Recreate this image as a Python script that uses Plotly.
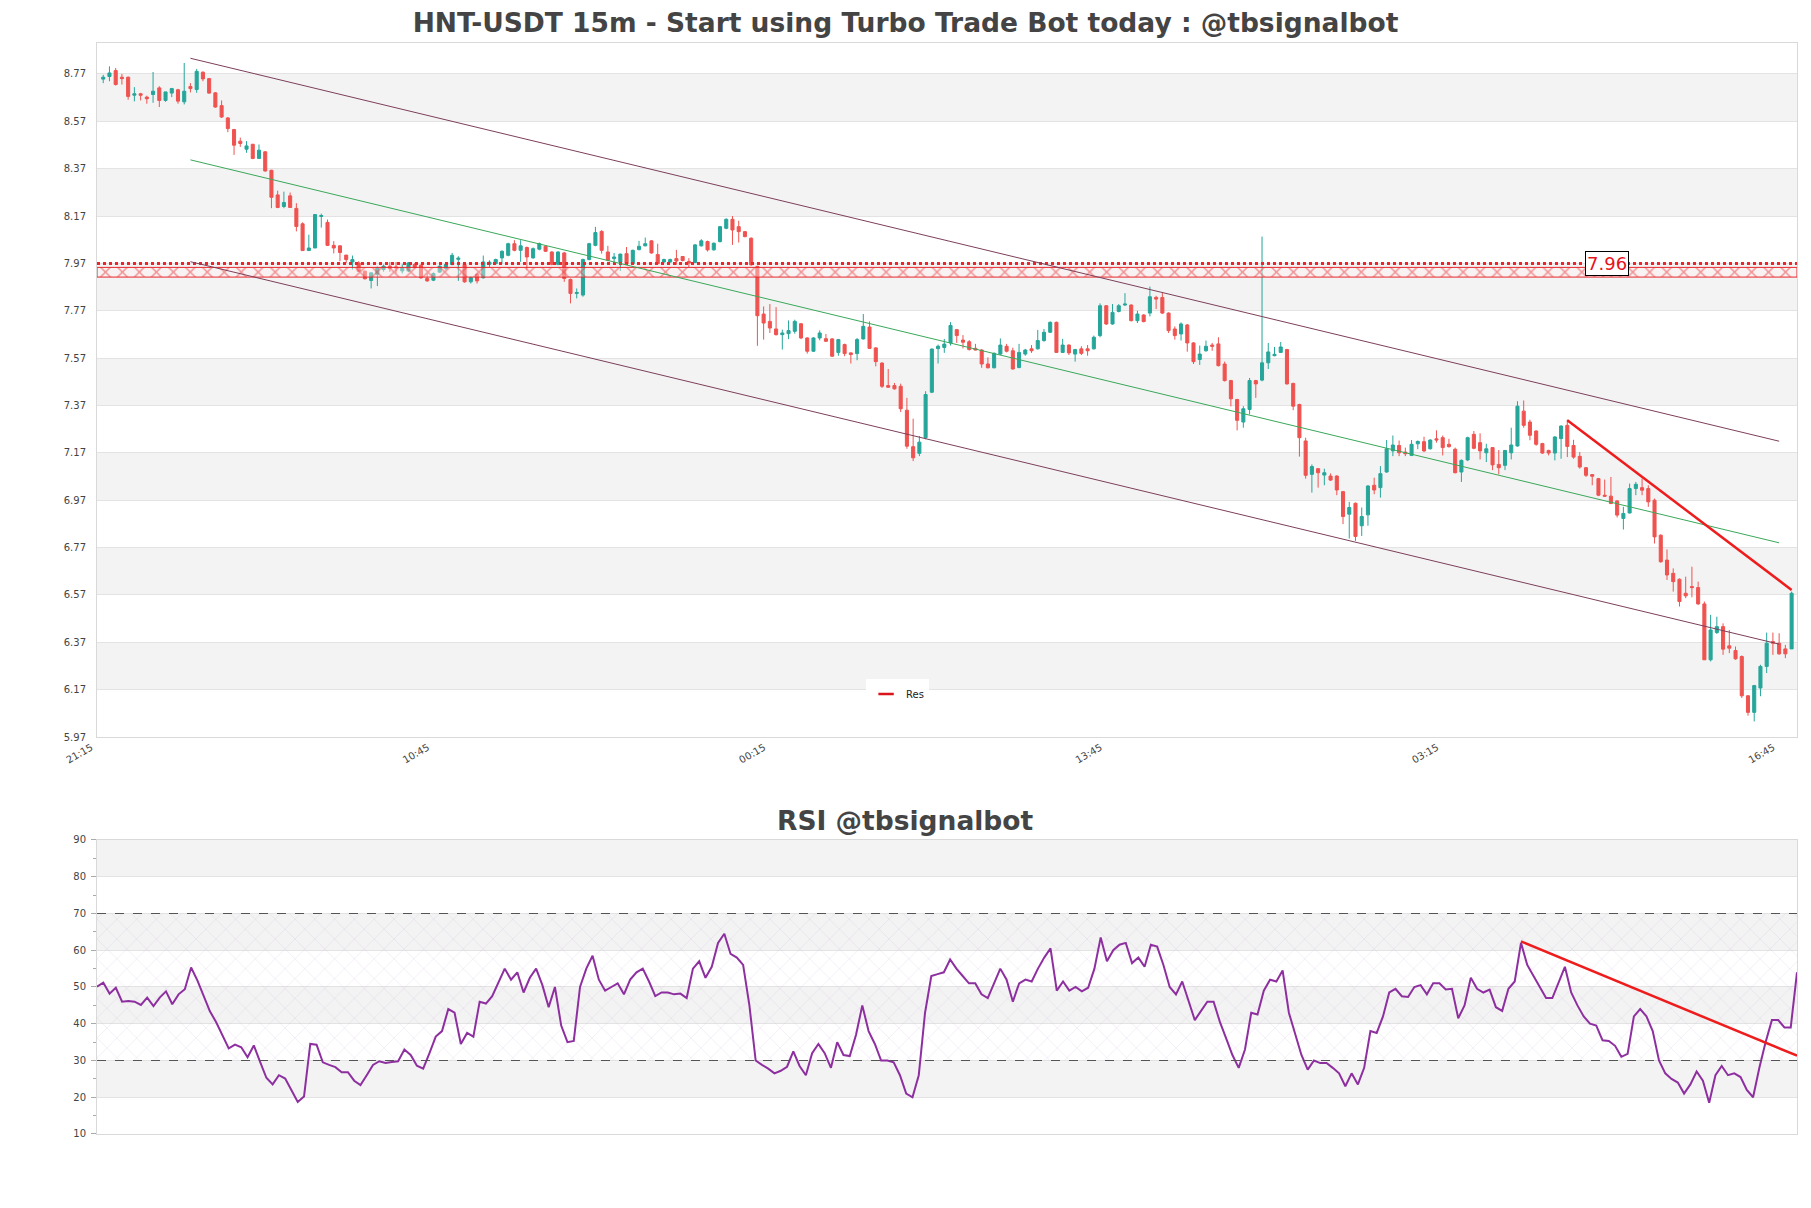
import plotly.graph_objects as go
import pandas as pd

# ---------------- data ----------------
open_ = [8.748,8.759,8.784,8.756,8.756,8.680,8.686,8.672,8.683,8.711,
         8.658,8.689,8.703,8.652,8.717,8.704,8.777,8.750,8.690,8.636,
         8.584,8.535,8.486,8.452,8.473,8.413,8.441,8.363,8.259,8.210,
         8.255,8.202,8.137,8.024,8.035,8.168,8.143,8.046,8.044,8.005,
         7.976,7.972,7.937,7.898,7.924,7.944,7.958,7.955,7.938,7.938,
         7.965,7.962,7.906,7.899,7.933,7.948,7.965,7.987,7.965,7.892,
         7.924,7.909,7.966,7.969,7.993,8.004,8.053,8.025,8.037,7.993,
         8.030,8.042,8.018,7.966,8.014,7.902,7.843,7.836,7.986,8.046,
         8.105,8.018,7.990,7.976,8.011,7.969,8.028,8.044,8.065,8.007,
         7.976,7.976,7.990,7.999,7.978,7.974,8.044,8.062,8.027,8.062,
         8.118,8.156,8.125,8.104,8.076,7.957,7.756,7.725,7.693,7.669,
         7.673,7.683,7.715,7.655,7.599,7.655,7.652,7.651,7.594,7.627,
         7.592,7.589,7.651,7.701,7.613,7.549,7.454,7.454,7.451,7.350,
         7.196,7.168,7.234,7.426,7.610,7.615,7.634,7.690,7.646,7.639,
         7.611,7.604,7.545,7.529,7.587,7.620,7.601,7.530,7.587,7.609,
         7.609,7.644,7.679,7.721,7.594,7.625,7.587,7.609,7.609,7.609,
         7.665,7.791,7.714,7.767,7.794,7.794,7.728,7.752,7.760,7.826,
         7.826,7.760,7.693,7.672,7.710,7.634,7.564,7.601,7.625,7.630,
         7.545,7.475,7.395,7.300,7.353,7.475,7.477,7.550,7.580,7.594,
         7.606,7.463,7.374,7.220,7.079,7.103,7.076,7.072,7.072,7.006,
         6.911,6.957,6.862,6.908,7.033,7.023,7.089,7.178,7.201,7.173,
         7.159,7.208,7.217,7.187,7.229,7.234,7.206,7.185,7.089,7.140,
         7.248,7.213,7.170,7.192,7.121,7.117,7.170,7.199,7.346,7.300,
         7.262,7.209,7.180,7.169,7.230,7.286,7.201,7.155,7.107,7.078,
         7.061,6.991,6.987,6.967,6.893,6.916,7.019,7.023,7.019,6.970,
         6.822,6.717,6.661,6.636,6.577,6.605,6.601,6.532,6.296,6.411,
         6.436,6.355,6.335,6.310,6.144,6.074,6.177,6.268,6.373,6.366,
         6.342,6.342]
high = [8.766,8.802,8.795,8.770,8.759,8.714,8.690,8.678,8.778,8.718,
        8.694,8.711,8.707,8.816,8.731,8.791,8.781,8.753,8.693,8.658,
        8.588,8.538,8.501,8.486,8.473,8.472,8.444,8.365,8.277,8.273,
        8.269,8.224,8.143,8.091,8.176,8.180,8.155,8.064,8.046,8.005,
        8.003,7.979,7.940,7.930,7.956,7.965,7.976,7.976,7.966,7.976,
        7.972,7.966,7.927,7.932,7.962,7.969,8.014,8.000,7.969,7.915,
        7.930,8.003,7.983,7.990,8.025,8.057,8.068,8.068,8.041,8.037,
        8.058,8.046,8.021,8.021,8.018,7.906,7.864,7.990,8.057,8.124,
        8.110,8.044,8.014,8.011,8.039,8.028,8.065,8.079,8.068,8.053,
        7.990,7.990,8.027,7.999,7.992,8.052,8.072,8.066,8.058,8.128,
        8.160,8.170,8.150,8.106,8.080,7.960,7.788,7.798,7.785,7.690,
        7.729,7.732,7.718,7.658,7.658,7.687,7.672,7.654,7.651,7.631,
        7.594,7.655,7.756,7.725,7.616,7.552,7.524,7.465,7.462,7.402,
        7.314,7.241,7.430,7.611,7.627,7.651,7.722,7.693,7.667,7.646,
        7.630,7.608,7.573,7.594,7.653,7.630,7.614,7.630,7.609,7.625,
        7.689,7.693,7.725,7.724,7.651,7.628,7.609,7.620,7.625,7.665,
        7.801,7.794,7.798,7.798,7.844,7.797,7.770,7.755,7.872,7.833,
        7.847,7.763,7.704,7.721,7.714,7.637,7.623,7.644,7.634,7.658,
        7.555,7.478,7.398,7.367,7.486,7.478,8.083,7.634,7.617,7.638,
        7.609,7.466,7.377,7.234,7.121,7.106,7.103,7.083,7.075,7.009,
        6.963,6.960,6.939,7.033,7.065,7.114,7.224,7.243,7.222,7.192,
        7.224,7.222,7.238,7.227,7.265,7.243,7.229,7.192,7.142,7.238,
        7.262,7.252,7.208,7.194,7.182,7.182,7.276,7.388,7.391,7.310,
        7.265,7.212,7.183,7.240,7.286,7.310,7.225,7.173,7.110,7.080,
        7.064,7.057,7.068,6.970,6.942,7.040,7.047,7.061,7.033,6.977,
        6.826,6.762,6.682,6.640,6.647,6.689,6.626,6.542,6.486,6.478,
        6.450,6.422,6.352,6.314,6.147,6.190,6.275,6.411,6.411,6.408,
        6.359,6.584]
low = [8.731,8.739,8.721,8.725,8.661,8.654,8.658,8.644,8.648,8.630,
       8.652,8.672,8.644,8.641,8.692,8.690,8.739,8.686,8.627,8.584,
       8.524,8.428,8.462,8.437,8.410,8.411,8.357,8.203,8.203,8.203,
       8.206,8.105,8.024,8.024,8.035,8.121,8.043,8.012,7.979,7.972,
       7.944,7.933,7.902,7.864,7.874,7.935,7.934,7.927,7.927,7.934,
       7.948,7.905,7.892,7.895,7.930,7.941,7.962,7.896,7.888,7.885,
       7.885,7.906,7.955,7.965,7.969,8.000,8.021,7.976,7.941,7.990,
       8.025,8.018,7.962,7.962,7.892,7.801,7.822,7.829,7.983,8.042,
       8.011,7.979,7.969,7.938,7.965,7.965,8.025,8.042,8.011,7.965,
       7.972,7.972,7.964,7.978,7.954,7.971,8.041,8.020,8.024,8.058,
       8.114,8.048,8.058,8.080,7.960,7.622,7.648,7.676,7.665,7.606,
       7.650,7.673,7.650,7.589,7.596,7.645,7.638,7.575,7.580,7.578,
       7.547,7.561,7.648,7.608,7.535,7.444,7.444,7.437,7.342,7.187,
       7.135,7.156,7.227,7.422,7.547,7.592,7.623,7.634,7.611,7.602,
       7.602,7.529,7.527,7.527,7.583,7.594,7.521,7.527,7.580,7.592,
       7.606,7.639,7.676,7.592,7.592,7.583,7.555,7.583,7.580,7.606,
       7.658,7.710,7.711,7.763,7.791,7.725,7.718,7.721,7.746,7.777,
       7.756,7.676,7.648,7.644,7.597,7.545,7.541,7.597,7.601,7.535,
       7.471,7.366,7.265,7.276,7.332,7.402,7.472,7.524,7.578,7.592,
       7.458,7.350,7.154,7.061,7.002,7.023,7.033,7.051,6.991,6.869,
       6.808,6.798,6.819,6.862,6.995,6.981,7.086,7.156,7.156,7.156,
       7.156,7.185,7.173,7.184,7.213,7.159,7.192,7.083,7.047,7.135,
       7.185,7.142,7.131,7.097,7.079,7.097,7.142,7.196,7.276,7.223,
       7.200,7.165,7.159,7.138,7.145,7.152,7.145,7.103,7.068,7.033,
       6.987,6.984,6.953,6.897,6.846,6.914,6.991,6.991,6.942,6.787,
       6.706,6.633,6.584,6.521,6.556,6.560,6.528,6.296,6.289,6.405,
       6.317,6.324,6.296,6.135,6.060,6.036,6.142,6.240,6.317,6.317,
       6.303,6.342]
close = [8.756,8.774,8.725,8.750,8.675,8.686,8.680,8.665,8.697,8.658,
         8.694,8.708,8.655,8.697,8.708,8.781,8.749,8.689,8.630,8.588,
         8.539,8.469,8.476,8.466,8.413,8.448,8.360,8.249,8.206,8.227,
         8.206,8.126,8.024,8.035,8.176,8.172,8.046,8.035,8.016,7.986,
         7.986,7.937,7.905,7.930,7.952,7.958,7.948,7.951,7.952,7.972,
         7.952,7.909,7.896,7.927,7.958,7.965,8.004,7.992,7.892,7.910,
         7.896,7.976,7.975,7.986,8.021,8.053,8.025,8.044,7.997,8.032,
         8.053,8.021,7.966,8.018,7.906,7.843,7.847,7.986,8.053,8.100,
         8.025,7.983,7.997,8.009,7.969,8.025,8.042,8.053,8.014,7.969,
         7.986,7.986,7.980,7.982,7.971,8.048,8.065,8.027,8.055,8.125,
         8.156,8.111,8.104,8.083,7.964,7.749,7.718,7.697,7.669,7.676,
         7.686,7.725,7.655,7.599,7.655,7.676,7.641,7.578,7.648,7.589,
         7.585,7.648,7.704,7.611,7.555,7.451,7.447,7.440,7.356,7.198,
         7.149,7.215,7.416,7.608,7.620,7.629,7.708,7.665,7.637,7.606,
         7.604,7.545,7.529,7.590,7.625,7.599,7.524,7.594,7.604,7.601,
         7.644,7.679,7.721,7.594,7.625,7.592,7.606,7.590,7.601,7.658,
         7.791,7.714,7.763,7.791,7.798,7.728,7.756,7.724,7.829,7.819,
         7.760,7.686,7.665,7.714,7.634,7.555,7.587,7.620,7.620,7.538,
         7.475,7.398,7.307,7.356,7.475,7.461,7.550,7.596,7.586,7.617,
         7.461,7.367,7.234,7.075,7.112,7.086,7.086,7.055,7.013,6.901,
         6.939,6.817,6.901,7.030,7.013,7.082,7.187,7.203,7.170,7.166,
         7.206,7.218,7.178,7.224,7.224,7.192,7.196,7.086,7.138,7.234,
         7.189,7.178,7.187,7.119,7.107,7.180,7.203,7.367,7.286,7.244,
         7.206,7.169,7.169,7.237,7.283,7.197,7.152,7.110,7.075,7.071,
         6.991,6.987,6.956,6.907,6.914,7.019,7.037,7.012,6.963,6.815,
         6.710,6.654,6.626,6.542,6.566,6.601,6.532,6.296,6.422,6.436,
         6.341,6.345,6.300,6.144,6.074,6.187,6.268,6.366,6.366,6.321,
         6.321,6.577]
rsi = [50.1,51.2,48.2,49.8,46.0,46.2,46.0,45.1,47.1,44.8,
       47.1,48.8,45.3,48.0,49.4,55.3,51.8,47.7,43.4,40.4,
       36.8,33.3,34.3,33.6,30.9,34.1,29.6,25.3,23.5,26.0,
       25.1,21.9,18.7,20.2,34.5,34.3,29.5,28.8,28.2,26.8,
       26.8,24.5,23.3,26.0,28.8,29.8,29.3,29.6,29.8,33.0,
       31.5,28.6,27.8,32.0,36.5,38.0,44.0,43.0,34.5,37.5,
       36.5,46.0,45.5,47.5,51.5,55.0,52.0,54.0,48.5,52.5,
       55.0,50.5,44.5,50.0,39.5,35.0,35.3,50.0,55.0,58.5,
       52.0,49.0,50.0,51.0,48.0,52.0,54.0,55.0,51.5,47.5,
       48.5,48.5,48.0,48.2,47.0,55.0,57.0,52.5,55.5,62.0,
       64.5,59.0,58.0,56.0,45.0,30.0,28.8,27.8,26.5,27.2,
       28.3,32.5,28.5,26.0,32.0,34.5,32.0,28.0,35.0,31.5,
       31.2,37.0,45.0,38.0,34.5,30.0,30.0,29.5,26.0,21.0,
       20.0,26.0,43.0,53.0,53.5,54.0,57.5,55.0,53.0,51.0,
       51.0,48.0,47.0,51.0,55.0,52.0,46.0,51.0,52.0,51.5,
       55.0,58.0,60.5,49.0,51.5,49.0,50.0,48.8,49.8,55.0,
       63.5,57.0,60.0,61.5,62.0,56.5,58.0,55.5,61.5,61.0,
       56.0,50.0,48.0,51.5,46.0,41.0,43.5,46.0,46.0,40.5,
       36.0,31.5,28.0,33.0,43.0,42.5,49.0,52.0,51.5,54.5,
       43.0,37.5,31.5,27.5,30.0,29.3,29.3,28.0,26.5,23.0,
       26.5,23.5,28.0,38.0,37.5,42.0,48.5,49.5,47.5,47.3,
       50.0,50.5,48.0,51.0,51.0,49.3,49.5,41.5,45.0,52.5,
       49.5,48.5,49.3,44.5,43.5,49.5,51.5,62.0,56.0,53.0,
       50.0,47.0,47.0,51.5,55.5,48.5,45.0,42.0,40.0,39.5,
       35.5,35.3,34.0,31.0,31.8,42.0,44.0,42.0,38.0,30.0,
       26.5,25.0,24.0,21.0,23.5,27.0,24.5,18.5,26.0,28.5,
       26.0,26.5,25.5,22.0,20.0,28.0,35.0,41.0,41.0,39.0,
       39.0,54.0]

times = pd.date_range("2024-03-10 21:15", periods=len(close), freq="15min")

# price-axis ticks
y_ticks = [5.97, 6.17, 6.37, 6.57, 6.77, 6.97, 7.17, 7.37, 7.57, 7.77, 7.97, 8.17, 8.37, 8.57, 8.77]
y_tick_text = ["5.97", "6.17", "6.37", "6.57", "6.77", "6.97", "7.17", "7.37", "7.57", "7.77",
               "7.97", "8.17", "8.37", "8.57", "8.77"]

# channel lines (candle index, value)
chan_idx = [14, 269]
chan_upper = [8.836, 7.219]
chan_mid = [8.407, 6.790]
chan_lower = [7.977, 6.362]

# resistance trend line on price and RSI
res_idx = [235, 271]
res_val = [7.307, 6.591]
rsi_res_idx = [227, 271]
rsi_res_val = [62.4, 31.3]

# horizontal resistance level and its zone
level_value = 7.96
level_line = 7.969
zone_low, zone_high = 7.912, 7.953

rsi_low, rsi_high = 30, 70

# ---------------- figure ----------------
GREEN = "#26a69a"
RED = "#ef5350"
LVL = "#e8262b"
FONT = "DejaVu Sans"
GRID = "#e3e3e3"
BAND = "#f3f3f3"
BORDER = "#d9d9d9"

fig = go.Figure()
pad_l = pd.Timedelta(minutes=15)
pad_r = pd.Timedelta(minutes=13)
x0, x1 = times[0] - pad_l, times[-1] + pad_r

# level zone (hatched, with border lines)
fig.add_trace(go.Scatter(
    x=[x0, x1, x1, x0, x0], y=[zone_low, zone_low, zone_high, zone_high, zone_low],
    mode="lines", line=dict(width=1, color=LVL), fill="toself", fillcolor="rgba(0,0,0,0)",
    fillpattern=dict(shape="x", fgcolor=LVL, bgcolor="rgba(255,240,240,0.4)", size=12, solidity=0.22),
    hoverinfo="skip", showlegend=False, xaxis="x", yaxis="y"))
fig.add_trace(go.Scatter(
    x=[x0, x1], y=[level_line, level_line], mode="lines",
    line=dict(color=LVL, width=3, dash="dot"),
    hoverinfo="skip", showlegend=False, xaxis="x", yaxis="y"))

# channel
for vals, col in [(chan_upper, "#7d3f5a"), (chan_mid, "#3aa85a"), (chan_lower, "#7d3f5a")]:
    fig.add_trace(go.Scatter(x=[times[i] for i in chan_idx], y=vals, mode="lines",
                             line=dict(color=col, width=1), showlegend=False,
                             xaxis="x", yaxis="y"))

fig.add_trace(go.Candlestick(
    x=times, open=open_, high=high, low=low, close=close,
    increasing=dict(line=dict(color=GREEN, width=1), fillcolor=GREEN),
    decreasing=dict(line=dict(color=RED, width=1), fillcolor=RED),
    whiskerwidth=0, showlegend=False, xaxis="x", yaxis="y"))

fig.add_trace(go.Scatter(x=[times[i] for i in res_idx], y=res_val, mode="lines",
                         name="Res", legendgroup="res", line=dict(color="#ee1c1c", width=2.5),
                         showlegend=False, xaxis="x", yaxis="y"))
# legend entry for Res (short line icon)
fig.add_trace(go.Scatter(x=[None], y=[None], mode="markers", name="Res", legendgroup="res",
                         marker=dict(symbol="line-ew", size=11, color="#d9141b",
                                     line=dict(color="#d9141b", width=2.5)),
                         showlegend=True, xaxis="x", yaxis="y"))

# RSI panel
fig.add_trace(go.Scatter(
    x=[times[0], times[-1], times[-1], times[0], times[0]],
    y=[rsi_low, rsi_low, rsi_high, rsi_high, rsi_low],
    mode="lines", line=dict(width=0), fill="toself", fillcolor="rgba(0,0,0,0)",
    fillpattern=dict(shape="x", fgcolor="rgba(185,150,205,0.55)", bgcolor="rgba(255,255,255,0)",
                     size=14, solidity=0.08),
    hoverinfo="skip", showlegend=False, xaxis="x2", yaxis="y2"))
fig.add_trace(go.Scatter(x=times, y=rsi, mode="lines", line=dict(color="#8e2fa0", width=2),
                         showlegend=False, xaxis="x2", yaxis="y2"))
fig.add_trace(go.Scatter(x=[times[i] for i in rsi_res_idx], y=rsi_res_val, mode="lines",
                         line=dict(color="#ee1c1c", width=2.5), showlegend=False,
                         xaxis="x2", yaxis="y2"))

shapes = []
for k in range(0, len(y_ticks) - 1):
    lo_, hi_ = y_ticks[k], y_ticks[k + 1]
    if k % 2 == 1:
        shapes.append(dict(type="rect", xref="x domain", yref="y", x0=0, x1=1, y0=lo_, y1=hi_,
                           fillcolor=BAND, line=dict(width=0), layer="below"))
for lo_, hi_ in [(20, 30), (40, 50), (60, 70), (80, 90)]:
    shapes.append(dict(type="rect", xref="x2 domain", yref="y2", x0=0, x1=1, y0=lo_, y1=hi_,
                       fillcolor=BAND, line=dict(width=0), layer="below"))
for v in (rsi_low, rsi_high):
    shapes.append(dict(type="line", xref="x2 domain", yref="y2", x0=0, x1=1, y0=v, y1=v,
                       line=dict(color="#555555", width=1.2, dash="dash")))

annotations = [
    dict(text="<b>RSI @tbsignalbot</b>", xref="paper", yref="paper", x=0.4753, y=0.2878,
         xanchor="center", yanchor="middle", showarrow=False,
         font=dict(family=FONT, size=26.5, color="#444")),
    dict(text="%.2f" % level_value, xref="paper", yref="y", x=0.888, y=7.971,
         xanchor="center", yanchor="middle", showarrow=False,
         font=dict(family=FONT, size=18, color="#e8121b"),
         bgcolor="white", bordercolor="black", borderwidth=1, borderpad=1),
]

fig.update_layout(
    width=1811, height=1208,
    margin=dict(l=97, r=14, t=43, b=74),
    paper_bgcolor="white", plot_bgcolor="white",
    font=dict(family=FONT, size=11, color="#444"),
    title=dict(text="<b>HNT-USDT 15m - Start using Turbo Trade Bot today : @tbsignalbot</b>",
               x=0.5, xref="container", xanchor="center", y=1 - 23 / 1208, yref="container",
               yanchor="middle", font=dict(family=FONT, size=26.5, color="#444")),
    xaxis=dict(domain=[0, 1], anchor="y", type="date", range=[x0, x1],
               rangeslider=dict(visible=False), tickformat="%H:%M",
               tick0=times[0], dtick=13.5 * 3600 * 1000, tickangle=-30,
               ticklabelshift=-12,
               showgrid=False, showline=True, mirror=True, linecolor=BORDER,
               tickfont=dict(size=10, color="#444")),
    yaxis=dict(domain=[0.36389, 1], anchor="x", range=[5.97, 8.9005],
               tickmode="array", tickvals=y_ticks, ticktext=y_tick_text,
               showgrid=True, gridcolor=GRID, zeroline=False,
               showline=True, mirror=True, linecolor=BORDER,
               ticklabelstandoff=8, tickfont=dict(size=10, color="#444")),
    xaxis2=dict(domain=[0, 1], anchor="y2", type="date", range=[times[0], times[-1]],
                showticklabels=False, showgrid=False, showline=True, mirror=True,
                linecolor=BORDER),
    yaxis2=dict(domain=[0, 0.26948], anchor="x2", range=[10, 90], tickmode="linear",
                tick0=10, dtick=10, ticks="outside", ticklen=5, tickcolor="#aaaaaa",
                minor=dict(dtick=5, tick0=10, ticks="outside", ticklen=3, tickcolor="#aaaaaa",
                           showgrid=False),
                showgrid=True, gridcolor=GRID, zeroline=False,
                showline=True, mirror=True, linecolor=BORDER,
                ticklabelstandoff=3, tickfont=dict(size=10, color="#444")),
    showlegend=True,
    legend=dict(x=0.4524, y=0.4033, xanchor="left", yanchor="middle", bgcolor="white",
                font=dict(family=FONT, size=10, color="#222")),
    shapes=shapes, annotations=annotations,
)

fig.write_html("out.html")
